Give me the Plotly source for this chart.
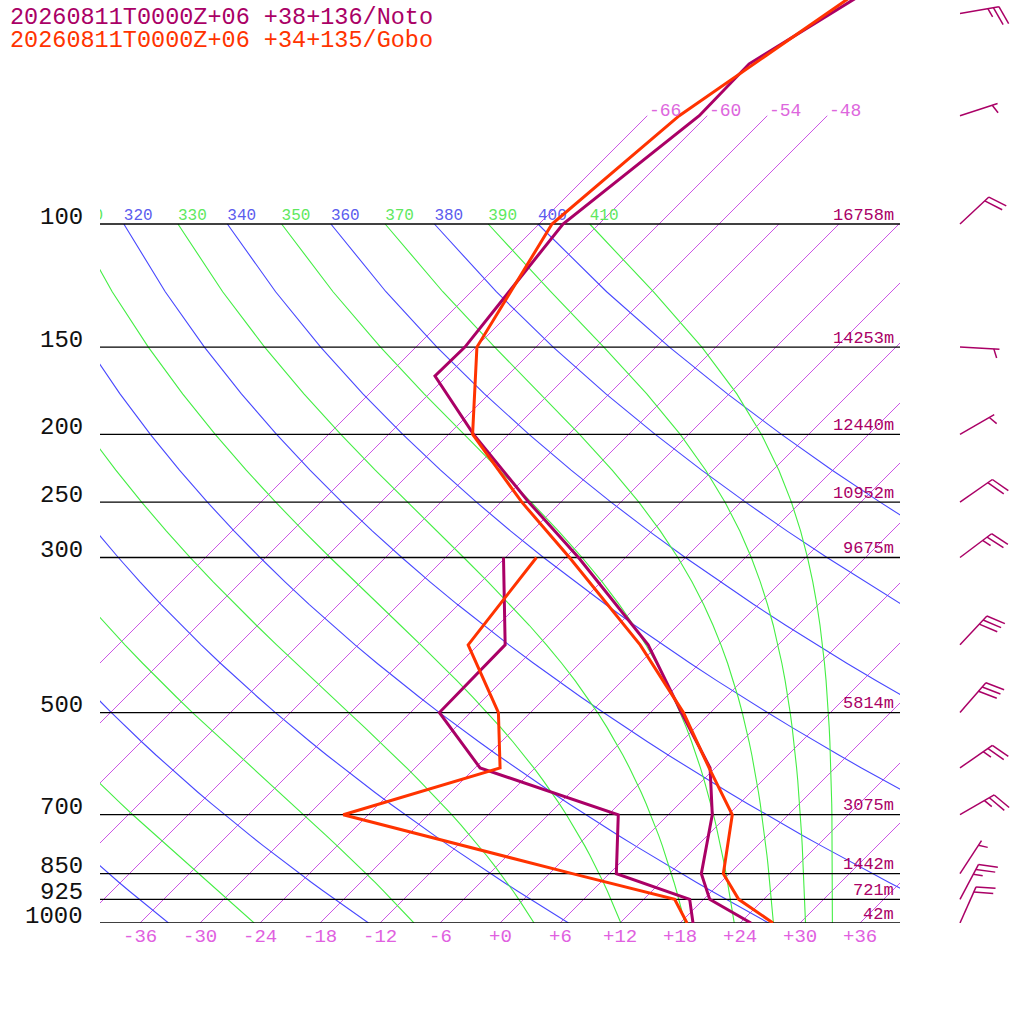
import numpy as np
import plotly.graph_objects as go

# sounding values (hPa, degC)
noto_t_p = [1000, 925, 850, 700, 600, 500, 400, 300, 250, 200, 165, 150, 100, 70, 59, 30]
noto_t = [25.1, 18.6, 15.2, 10.4, 5.5, -2.9, -13.0, -28.7, -39.2, -51.5, -61.2, -61.1, -63.6, -60.8, -61.0, -48.2]
noto_td_p = [1000, 925, 850, 700, 600, 500, 400, 300]
noto_td = [19.3, 16.6, 6.7, 1.0, -17.5, -27.1, -27.3, -36.2]

gobo_t_p = [1000, 925, 850, 700, 600, 500, 400, 300, 250, 200, 150, 100, 70, 30]
gobo_t = [27.3, 21.5, 17.4, 12.4, 5.4, -2.7, -13.8, -29.6, -39.9, -51.6, -59.9, -64.7, -62.8, -51.4]
gobo_td_p = [1000, 925, 850, 700, 600, 500, 400, 300]
gobo_td = [18.7, 15.1, 2.3, -26.5, -15.5, -21.2, -31.0, -32.9]

levels = [1000, 925, 850, 700, 500, 300, 250, 200, 150, 100]
heights = ["42m", "721m", "1442m", "3075m", "5814m", "9675m", "10952m", "12440m", "14253m", "16758m"]

# winds (Noto)
wind_p = [1000, 925, 850, 700, 600, 500, 400, 300, 250, 200, 150, 100, 70, 50]
wind_dir = [24, 28, 33, 60, 55, 41, 43, 53, 55, 60, 93, 47, 72, 80]
wind_kt = [20, 25, 5, 25, 25, 30, 30, 25, 20, 5, 5, 20, 5, 25]

temp_ticks = list(range(-36, 37, 6))
isotherms = list(range(-66, 37, 6))
isotherm_labels = [-66, -60, -54, -48]
dry_theta = list(range(240, 401, 20))
moist_thetae = list(range(250, 411, 20))

NOTO = "#aa0066"
GOBO = "#ff3300"
ISO = "#cc55e6"
BLUE = "#4848ff"
GREEN = "#44ee44"
FONT = "Liberation Mono"

SKEW = 69.9  # degC per decade of pressure (45 deg)
PX_DEC = 699.0  # pixels per decade of pressure


def skx(t, p):
	return np.asarray(t) + SKEW * np.log10(1000.0 / np.asarray(p, dtype=float))


def thetae_sat(tk, p):
	tc = tk - 273.15
	es = 6.112 * np.exp(17.67 * tc / (tc + 243.5))
	if es > 0.5 * p:
		return 1e9
	ws = 0.622 * es / (p - es)
	return tk * (1000.0 / p) ** (0.2854 * (1 - 0.28 * ws)) * np.exp((3.376 / tk - 0.00254) * ws * 1000 * (1 + 0.81 * ws))


def moist_temp(te, p):
	lo, hi = 120.0, 340.0
	for i in range(60):
		mid = 0.5 * (lo + hi)
		if thetae_sat(mid, p) > te:
			hi = mid
		else:
			lo = mid
	return 0.5 * (lo + hi) - 273.15


fig = go.Figure()
curve_p = np.arange(1000, 99, -25)

# isotherms
for t in isotherms:
	ptop = 70 if t <= -48 else 100
	fig.add_trace(go.Scatter(x=skx([t, t], [1000, ptop]), y=[1000, ptop], mode="lines",
		line=dict(color=ISO, width=1)))

# dry adiabats
for th in dry_theta:
	tc = th * (curve_p / 1000.0) ** 0.286 - 273.15
	fig.add_trace(go.Scatter(x=skx(tc, curve_p), y=curve_p, mode="lines", line=dict(color=BLUE, width=1.1)))

# pseudo adiabats
for te in moist_thetae:
	tc = [moist_temp(te, p) for p in curve_p]
	fig.add_trace(go.Scatter(x=skx(tc, curve_p), y=curve_p, mode="lines", line=dict(color=GREEN, width=1.1)))

# adiabat labels at 100 hPa (only those that reach into the frame)
lab_x, lab_t, lab_c = [], [], []
for th in dry_theta:
	xv = float(skx(th * 0.1 ** 0.286 - 273.15, 100))
	if xv > -44:
		lab_x.append(xv)
		lab_t.append(str(th))
		lab_c.append("#5c5cee")
for te in moist_thetae:
	xv = float(skx(moist_temp(te, 100), 100))
	if xv > -44:
		lab_x.append(xv)
		lab_t.append(str(te))
		lab_c.append("#5ee85e")
fig.add_trace(go.Scatter(x=lab_x, y=[100] * len(lab_x), mode="text", text=lab_t, textposition="top right",
	textfont=dict(family=FONT, size=16, color=lab_c), cliponaxis=True))

# pressure levels
for p in levels:
	fig.add_trace(go.Scatter(x=[-40, 40], y=[p, p], mode="lines", line=dict(color="black", width=1.3)))

# soundings
fig.add_trace(go.Scatter(x=skx(noto_td, noto_td_p), y=noto_td_p, mode="lines", line=dict(color=NOTO, width=3)))
fig.add_trace(go.Scatter(x=skx(gobo_td, gobo_td_p), y=gobo_td_p, mode="lines", line=dict(color=GOBO, width=3)))
fig.add_trace(go.Scatter(x=skx(noto_t, noto_t_p), y=noto_t_p, mode="lines", line=dict(color=NOTO, width=3)))
fig.add_trace(go.Scatter(x=skx(gobo_t, gobo_t_p), y=gobo_t_p, mode="lines", line=dict(color=GOBO, width=3)))

# wind barbs on a second x axis measured in pixels
bx, by = [], []
for p, d, kt in zip(wind_p, wind_dir, wind_kt):
	a = np.radians(d)
	u = np.array([np.sin(a), np.cos(a)])
	b_ang = np.arctan2(u[1], u[0]) - np.radians(70)
	b = np.array([np.cos(b_ang), np.sin(b_ang)])
	base = np.array([960.0, 0.0])
	tip = base + 39.5 * u
	segs = [(base, tip)]
	full, half = kt // 10, (kt % 10) // 5
	pos = 0
	for i in range(full):
		s = tip - pos * 5.6 * u
		segs.append((s, s + 19.5 * b))
		pos += 1
	if half:
		if pos == 0:
			pos = 1
		s = tip - pos * 5.6 * u
		segs.append((s, s + 9.5 * b))
	for s0, s1 in segs:
		for pt in (s0, s1):
			bx.append(pt[0])
			by.append(10 ** (np.log10(p) - pt[1] / PX_DEC))
		bx.append(None)
		by.append(None)
fig.add_trace(go.Scatter(x=bx, y=by, mode="lines", line=dict(color=NOTO, width=1.5), xaxis="x2", yaxis="y"))

ann = []
for p in levels:
	ann.append(dict(x=-15 / 924, xref="paper", y=np.log10(p), yref="y", text=str(p), showarrow=False,
		xanchor="right", yanchor="middle", yshift=7, font=dict(family=FONT, size=24, color="#111111")))
for p, h in zip(levels, heights):
	ann.append(dict(x=796 / 924, xref="paper", y=np.log10(p), yref="y", text=h, showarrow=False,
		xanchor="right", yanchor="middle", yshift=9, font=dict(family=FONT, size=17, color=NOTO)))
for t in isotherm_labels:
	ann.append(dict(x=float(skx(t, 70)), xref="x", y=np.log10(70), yref="y", text="%d" % t, showarrow=False,
		xanchor="left", yanchor="middle", yshift=5, font=dict(family=FONT, size=18, color="#dd66dd")))
for t in temp_ticks:
	ann.append(dict(x=t, xref="x", y=-14 / 923, yref="paper", text=("%+d" % t) if t else "+0", showarrow=False,
		xanchor="center", yanchor="middle", font=dict(family=FONT, size=19, color="#e060e0")))
ann.append(dict(x=-92 / 924, xref="paper", y=906 / 923, yref="paper", text="20260811T0000Z+06 +38+136/Noto",
	showarrow=False, xanchor="left", yanchor="middle", font=dict(family=FONT, size=23.5, color=NOTO)))
ann.append(dict(x=-92 / 924, xref="paper", y=882 / 923, yref="paper", text="20260811T0000Z+06 +34+135/Gobo",
	showarrow=False, xanchor="left", yanchor="middle", font=dict(family=FONT, size=23.5, color=GOBO)))

fig.update_layout(
	width=1024, height=1024,
	margin=dict(l=100, r=0, t=0, b=101),
	plot_bgcolor="rgba(0,0,0,0)", paper_bgcolor="white",
	showlegend=False,
	xaxis=dict(domain=[0, 800 / 924], range=[-40, 40], visible=False),
	xaxis2=dict(domain=[760 / 924, 1], range=[860, 1024], visible=False, anchor="y"),
	yaxis=dict(type="log", range=[3, 3 - 923 / PX_DEC], visible=False),
	annotations=ann,
)
fig.write_html("out.html", config={"displayModeBar": False},
	post_script="document.body.style.margin='0';")
